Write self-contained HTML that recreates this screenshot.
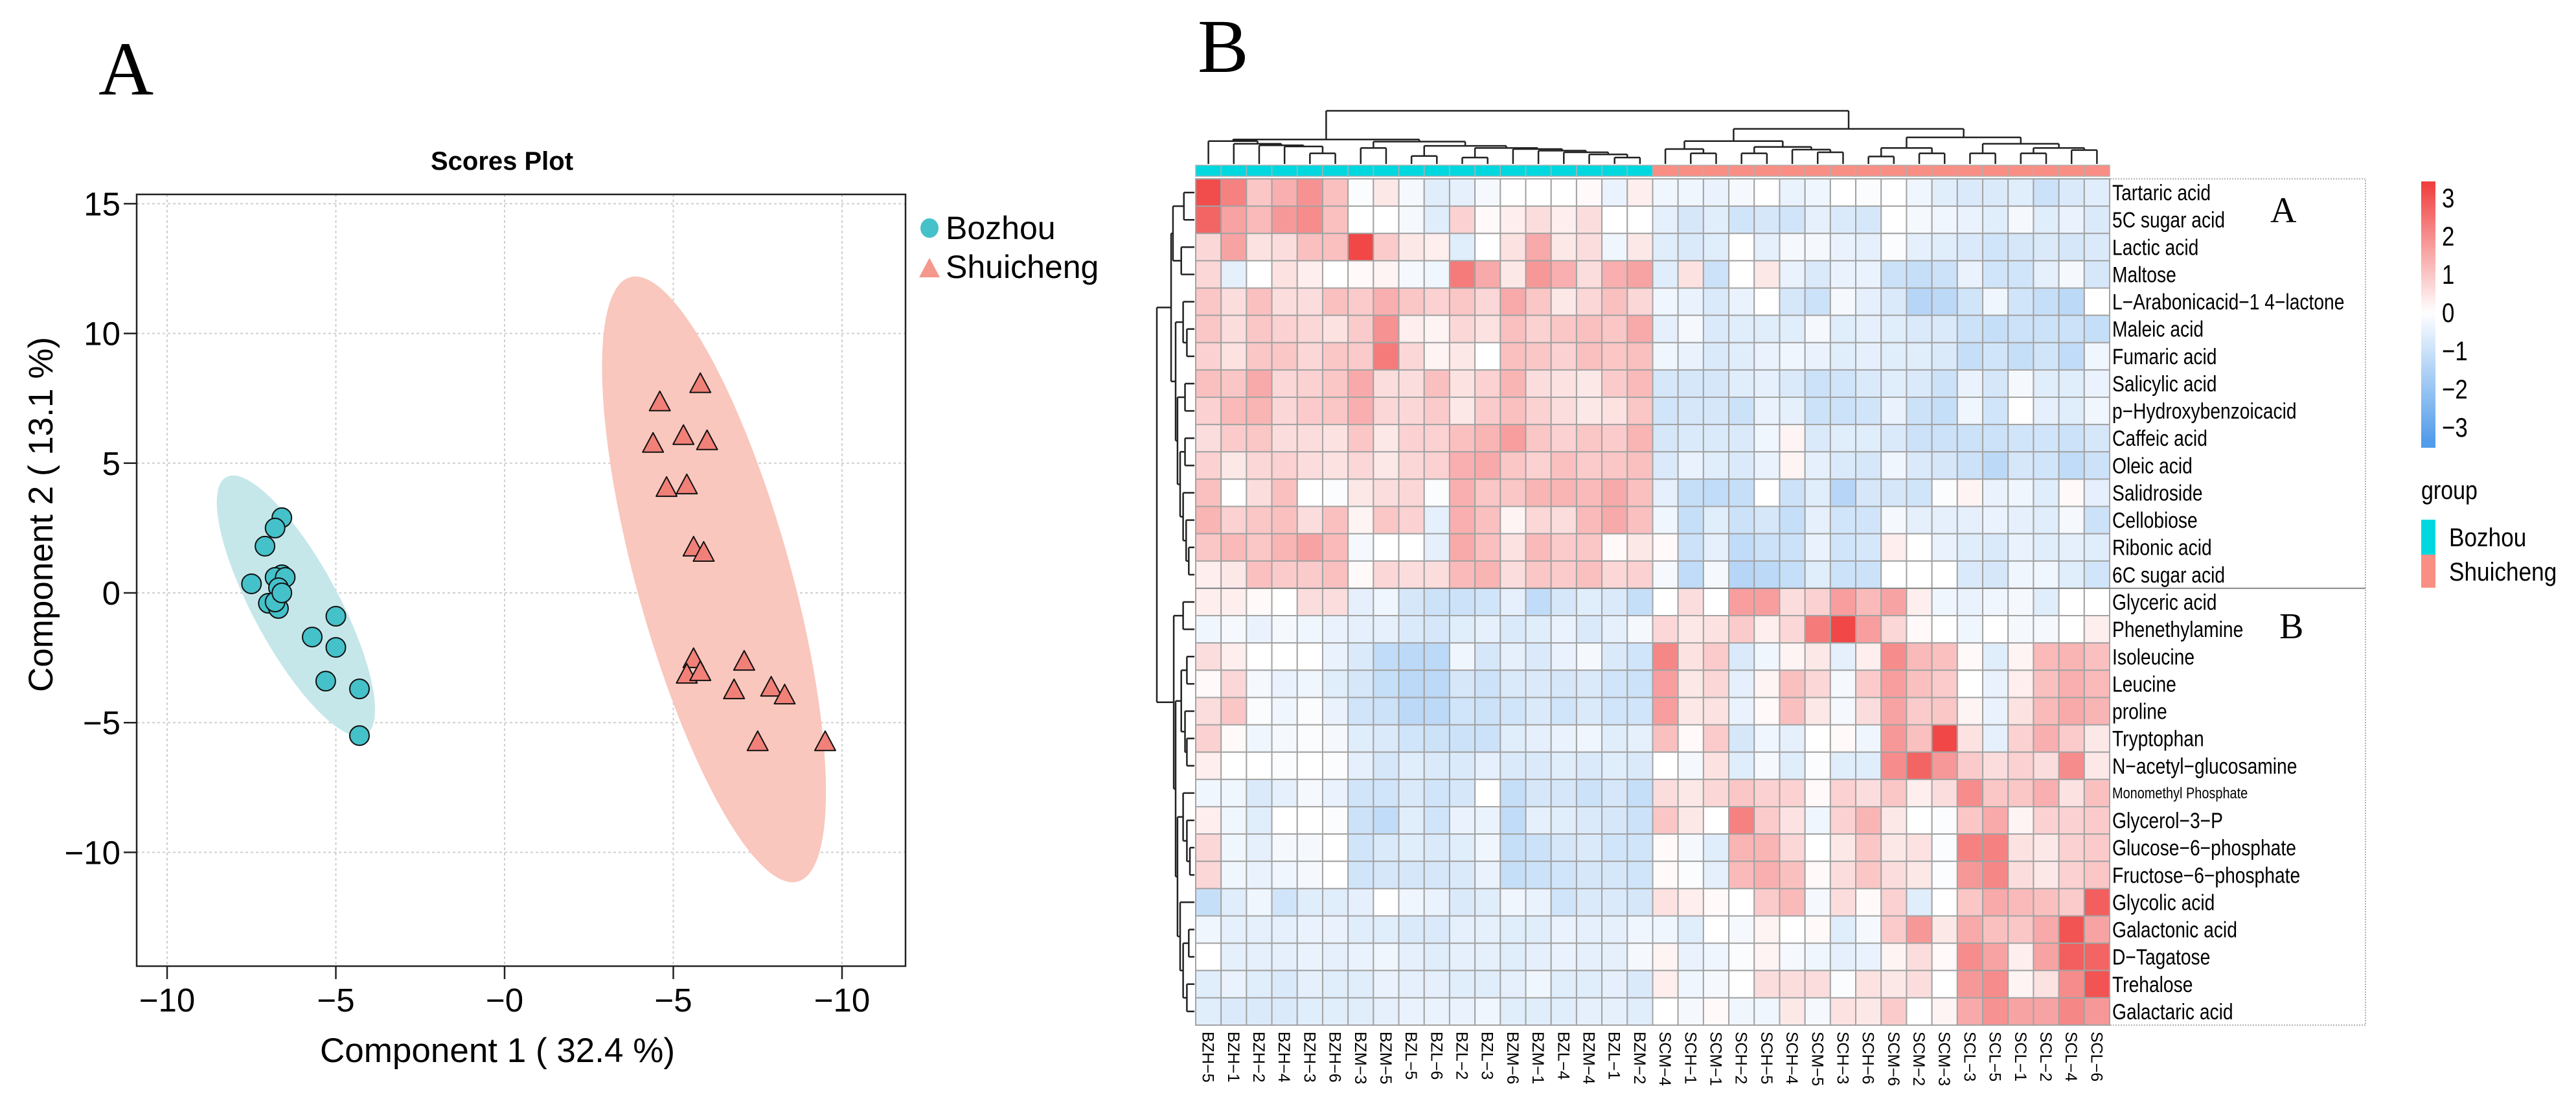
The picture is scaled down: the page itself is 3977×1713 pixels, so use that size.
<!DOCTYPE html>
<html><head><meta charset="utf-8"><style>
html,body{margin:0;padding:0;background:#fff;}
svg{display:block;font-family:"Liberation Sans",sans-serif;}
</style></head><body>
<svg id="fig" width="3977" height="1713" viewBox="0 0 3977 1713" xmlns="http://www.w3.org/2000/svg">
<rect width="3977" height="1713" fill="#fff"/>
<text x="152" y="146" font-family="Liberation Serif, serif" font-size="118">A</text>
<text x="1849" y="111" font-family="Liberation Serif, serif" font-size="118">B</text>
<g id="scatter"></g>
<g id="heat"></g>
</svg>
<script>
const NS="http://www.w3.org/2000/svg";
// ---------- Scores plot data ----------
const bozhouX=[-6.6,-6.8,-7.1,-7.5,-6.6,-6.8,-6.5,-6.7,-7.0,-6.7,-6.8,-5.0,-5.7,-5.0,-5.3,-4.3,-4.3,-6.6];
const bozhouY=[2.9,2.5,1.8,0.35,0.7,0.6,0.6,0.2,-0.4,-0.6,-0.35,-0.9,-1.7,-2.1,-3.4,-3.7,-5.5,0.0];
const shuiX=[4.6,5.8,4.4,5.3,6.0,4.8,5.4,5.6,5.9,5.6,5.4,5.8,7.1,6.8,7.9,8.3,7.5,9.5];
const shuiY=[7.3,8.0,5.7,6.0,5.8,4.0,4.1,1.7,1.5,-2.6,-3.2,-3.1,-2.7,-3.8,-3.7,-4.0,-5.8,-5.8];
const xTicks=[-10,-5,0,5,10];
const xTickLabels=["\u221210","\u22125","\u22120","\u22125","\u221210"];
const yTicks=[15,10,5,0,-5,-10];
const yTickLabels=["15","10","5","0","\u22125","\u221210"];

function el(tag,attrs,parent,txt){const e=document.createElementNS(NS,tag);for(const k in attrs)e.setAttribute(k,attrs[k]);if(txt!==undefined)e.textContent=txt;parent.appendChild(e);return e;}
const sx=v=>779+v*52.1, sy=v=>915-v*40.04;
const SL={left:211,right:1398,top:300,bottom:1491};
const sc=document.getElementById('scatter');
xTicks.forEach(t=>{const g=el('line',{x1:sx(t),x2:sx(t),y1:SL.top,y2:SL.bottom,stroke:'#cfcfcf','stroke-width':2,'stroke-dasharray':'4,4'},sc);

});
yTicks.forEach(t=>{const g=el('line',{x1:SL.left,x2:SL.right,y1:sy(t),y2:sy(t),stroke:'#cfcfcf','stroke-width':2,'stroke-dasharray':'4,4'},sc);

});
function mean(a){return a.reduce((s,v)=>s+v,0)/a.length;}
const e1=el('ellipse',{cx:0,cy:0,rx:66,ry:226,fill:'#c5e7ea',transform:`translate(${sx(mean(bozhouX))},${sy(mean(bozhouY))}) rotate(-28.4)`},sc);


const e2=el('ellipse',{cx:0,cy:0,rx:119,ry:484,fill:'#f9c7bd',transform:`translate(${sx(mean(shuiX))},${sy(mean(shuiY))}) rotate(-15.5)`},sc);


bozhouX.forEach((x,i)=>{const c=el('circle',{cx:sx(x),cy:sy(bozhouY[i]),r:15,fill:'#45c1c9',stroke:'#111','stroke-width':2},sc);

});
shuiX.forEach((x,i)=>{const X=sx(x),Y=sy(shuiY[i]);const p=el('polygon',{points:`${X},${Y-19} ${X-16},${Y+11} ${X+16},${Y+11}`,fill:'#f08078',stroke:'#111','stroke-width':2,'stroke-linejoin':'round'},sc);

});
const bx=el('rect',{x:SL.left,y:SL.top,width:SL.right-SL.left,height:SL.bottom-SL.top,fill:'none',stroke:'#222','stroke-width':2.5},sc);


xTicks.forEach((t,i)=>{el('line',{x1:sx(t),x2:sx(t),y1:SL.bottom,y2:SL.bottom+20,stroke:'#222','stroke-width':2.5},sc);
const l=el('text',{x:sx(t),y:1561,'font-size':51,'text-anchor':'middle'},sc,xTickLabels[i]);

});
yTicks.forEach((t,i)=>{el('line',{x1:SL.left-20,x2:SL.left,y1:sy(t),y2:sy(t),stroke:'#222','stroke-width':2.5},sc);
const l=el('text',{x:186,y:sy(t)+18,'font-size':51,'text-anchor':'end'},sc,yTickLabels[i]);

});
let t1=el('text',{x:775,y:262,'font-size':40,'font-weight':'bold','text-anchor':'middle'},sc,'Scores Plot');


let t2=el('text',{x:768,y:1639,'font-size':53,'text-anchor':'middle'},sc,'Component 1 ( 32.4 %)');


let t3=el('text',{x:0,y:0,'font-size':53,'text-anchor':'middle',transform:'translate(81,794) rotate(-90)'},sc,'Component 2 ( 13.1 %)');


let lg1=el('ellipse',{cx:1435,cy:352,rx:14,ry:15,fill:'#45c1c9'},sc);


let lt1=el('text',{x:1460,y:369,'font-size':50},sc,'Bozhou');


let lg2=el('polygon',{points:'1435,398 1419,428 1451,428',fill:'#f4978c'},sc);


let lt2=el('text',{x:1460,y:429,'font-size':50},sc,'Shuicheng');


</script>
<script>
// ---------- Heatmap data ----------
const metabolites=["Tartaric acid","5C sugar acid","Lactic acid","Maltose","L\u2212Arabonicacid\u22121 4\u2212lactone","Maleic acid","Fumaric acid","Salicylic acid","p\u2212Hydroxybenzoicacid","Caffeic acid","Oleic acid","Salidroside","Cellobiose","Ribonic acid","6C sugar acid","Glyceric acid","Phenethylamine","Isoleucine","Leucine","proline","Tryptophan","N\u2212acetyl\u2212glucosamine","Monomethyl Phosphate","Glycerol\u22123\u2212P","Glucose\u22126\u2212phosphate","Fructose\u22126\u2212phosphate","Glycolic acid","Galactonic acid","D\u2212Tagatose","Trehalose","Galactaric acid"];
const samples=["BZH\u22125","BZH\u22121","BZH\u22122","BZH\u22124","BZH\u22123","BZH\u22126","BZM\u22123","BZM\u22125","BZL\u22125","BZL\u22126","BZL\u22122","BZL\u22123","BZM\u22126","BZM\u22121","BZL\u22124","BZM\u22124","BZL\u22121","BZM\u22122","SCM\u22124","SCH\u22121","SCM\u22121","SCH\u22122","SCH\u22125","SCH\u22124","SCM\u22125","SCH\u22123","SCH\u22126","SCM\u22126","SCM\u22122","SCM\u22123","SCL\u22123","SCL\u22125","SCL\u22121","SCL\u22122","SCL\u22124","SCL\u22126"];
const sampleGroup=["B","B","B","B","B","B","B","B","B","B","B","B","B","B","B","B","B","B","S","S","S","S","S","S","S","S","S","S","S","S","S","S","S","S","S","S"];
const valuesBozhou=[
[3.1,2.2,1.0,1.4,1.9,1.1,-0.1,0.4,-0.2,-0.6,-0.5,-0.2,0,0,0,0.1,-0.4,0.3],
[2.7,1.6,1.2,1.8,2.0,1.1,0,0,-0.2,-0.6,0.8,0.1,0.3,0.6,0.3,0.6,0,0],
[0.7,1.6,0.5,0.6,1.1,1.1,3.2,0.9,0.4,0.3,-0.6,0,0.5,1.5,0.4,0.6,-0.3,0.4],
[0.7,-0.5,0,0.5,0.3,0,0.1,0.2,-0.2,-0.3,2.3,1.5,0.4,1.8,1.4,0.6,1.4,1.6],
[1.0,0.6,1.1,0.6,0.6,1.1,0.9,1.4,1.0,0.8,1.0,0.7,1.5,1.0,0.4,0.7,1.1,0.7],
[1.0,0.6,1.0,0.8,0.7,0.5,0.9,1.9,0.3,0.2,0.7,0.5,1.1,0.8,1.0,1.1,1.0,1.5],
[0.8,0.5,1.0,1.0,0.7,1.0,0.9,2.3,0.7,0.2,0.4,0,1.1,1.0,0.8,1.1,1.0,1.1],
[1.1,1.0,1.5,0.7,0.8,1.0,1.5,0.6,0.6,1.1,0.5,0.8,1.3,0.6,0.5,0.4,0.9,1.2],
[0.8,1.2,1.3,0.7,0.9,1.0,1.4,0.7,0.7,0.9,0.4,0.9,1.1,0.8,0.6,0.4,0.5,1.0],
[0.6,0.9,1.0,0.6,0.6,0.5,1.0,0.4,0.8,0.8,1.1,1.3,1.7,1.0,0.8,1.0,0.9,1.3],
[0.8,0.4,0.7,0.8,0.6,0.5,0.7,0.4,0.7,0.8,1.4,1.5,1.0,0.8,1.1,0.9,1.0,1.1],
[1.1,0,0.6,1.1,0,-0.1,0.4,0.6,0.7,-0.1,1.4,1.0,1.0,1.3,1.3,1.2,1.5,1.1],
[1.3,0.8,1.0,1.1,0.6,1.1,0.2,1.0,0.8,-0.5,1.4,1.1,0.2,0.7,0.6,1.2,1.5,1.1],
[1.0,1.2,1.0,1.3,1.6,1.2,-0.2,0,0,-0.5,1.5,1.1,0.5,1.2,0.9,1.0,0.1,0.4],
[0.3,0.4,1.1,0.9,0.9,1.1,0.1,0.7,0.6,0.6,1.2,1.3,0.6,1.0,0.9,1.1,0.7,0.8],
[0.3,0.3,0.1,0,0.6,0.6,-0.5,-0.3,-0.8,-1.0,-1.0,-0.9,-0.5,-1.2,-0.8,-0.6,-0.7,-1.1],
[-0.3,-0.2,-0.4,-0.2,-0.3,-0.4,-0.5,-0.5,-0.7,-0.8,-0.6,-0.5,-0.7,-0.6,-0.4,-0.7,-0.5,-0.2],
[0.6,0.3,0,0,0,-0.4,-0.7,-1.2,-1.3,-1.3,-0.3,-0.8,-0.5,-0.7,-0.4,-0.2,-0.7,-0.9],
[0.1,0.7,-0.2,-0.4,-0.3,-0.6,-0.8,-1.1,-1.3,-1.3,-0.8,-1.0,-0.7,-0.7,-0.8,-0.7,-0.9,-1.0],
[0.6,1.0,-0.1,-0.3,-0.1,-0.4,-0.9,-1.0,-1.3,-1.3,-0.9,-1.0,-0.9,-0.7,-0.9,-0.7,-0.9,-0.9],
[0.8,0.1,-0.3,-0.2,-0.1,-0.2,-0.6,-0.7,-0.9,-1.0,-1.0,-1.0,-0.6,-0.5,-0.4,-0.3,-0.6,-0.5],
[0.3,0,0,-0.1,0,-0.1,-0.5,-0.8,-0.6,-0.7,-0.7,-0.5,-0.7,-0.7,-0.6,-0.7,-0.6,-0.7],
[-0.3,-0.3,-0.7,-0.5,-0.2,-0.4,-0.9,-0.9,-0.7,-0.9,-0.8,0,-1.1,-0.8,-0.8,-1.0,-0.8,-1.1],
[0.3,-0.3,-0.6,0,0,-0.1,-1.0,-1.2,-0.6,-0.9,-0.4,-0.4,-1.2,-0.5,-0.6,-0.7,-0.8,-1.0],
[0.7,-0.3,-0.5,-0.2,-0.2,0,-0.9,-0.7,-0.6,-0.7,-0.6,-0.3,-1.1,-1.0,-0.8,-0.7,-0.9,-0.9],
[0.7,-0.3,-0.4,-0.3,-0.2,0,-0.9,-0.8,-0.8,-0.8,-0.7,-0.4,-1.1,-1.0,-0.9,-0.8,-0.8,-0.9],
[-1.1,-0.6,-0.3,-0.9,-0.6,-0.6,-0.5,0,-0.3,-0.4,-0.7,-0.6,-0.3,-0.4,-0.9,-0.7,-0.7,-0.8],
[-0.3,-0.5,-0.5,-0.5,-0.4,-0.4,-0.6,-0.6,-0.7,-0.7,-0.5,-0.5,-0.6,-0.6,-0.4,-0.5,-0.5,-0.3],
[0,-0.5,-0.5,-0.5,-0.4,-0.5,-0.4,-0.3,-0.5,-0.6,-0.5,-0.5,-0.6,-0.5,-0.4,-0.5,-0.5,-0.2],
[-0.6,-0.4,-0.6,-0.7,-0.5,-0.6,-0.6,-0.4,-0.5,-0.5,-0.6,-0.6,-0.5,-0.3,-0.6,-0.6,-0.5,-0.7],
[-0.6,-0.7,-0.7,-0.7,-0.6,-0.6,-0.6,-0.5,-0.4,-0.4,-0.4,-0.3,-0.6,-0.6,-0.6,-0.5,-0.5,-0.6]];
const valuesShuicheng=[
[-0.3,-0.3,-0.4,-0.2,0,-0.4,-0.3,0,-0.1,0,-0.3,-0.6,-0.7,-0.7,-0.6,-1.0,-0.7,-0.6],
[-0.5,-0.8,-0.6,-0.9,-0.8,-0.9,-0.5,-0.7,-0.8,0,-0.2,-0.3,-0.4,-0.6,-0.2,-0.6,-0.4,-0.7],
[-0.6,-0.7,-0.6,0,-0.5,-0.2,-0.2,-0.4,-0.5,-0.1,-0.5,-0.6,-0.7,-0.9,-0.8,-0.7,-0.8,-0.7],
[-0.6,0.5,-1.0,0,0.4,-0.4,-0.7,-0.4,-0.4,-1.0,-1.1,-1.0,-0.4,-0.9,-0.9,-0.5,-0.2,-0.8],
[-0.3,-0.4,-0.7,-0.4,0,-0.8,-1.0,-0.2,-0.5,-0.7,-1.4,-1.3,-0.9,-0.3,-0.9,-1.1,-1.3,0],
[-0.5,-0.2,-0.7,-0.6,-0.6,-0.6,-0.2,-0.6,-0.5,-0.6,-0.7,-0.7,-1.0,-1.1,-1.0,-1.0,-1.0,-1.1],
[-0.3,-0.4,-0.7,-0.6,-0.4,-0.3,-0.4,-0.6,-0.5,-0.6,-0.6,-0.7,-1.1,-0.9,-1.1,-0.9,-1.2,-0.3],
[-0.8,-0.8,-0.8,-0.6,-0.5,-0.7,-1.0,-0.9,-0.7,-0.6,-0.7,-1.0,-0.4,-0.8,-0.2,-0.6,-0.6,-0.4],
[-0.9,-0.8,-0.8,-1.0,-0.4,-0.5,-1.0,-1.0,-0.9,-0.4,-1.0,-1.1,-0.3,-0.9,0,-0.5,-0.6,-0.3],
[-0.8,-0.7,-0.7,-0.7,-0.3,0.2,-0.7,-0.6,-0.6,-0.7,-1.0,-1.0,-1.0,-1.0,-0.9,-0.9,-1.0,-0.8],
[-0.7,-0.4,-0.6,-0.7,-0.4,0.2,-0.5,-0.7,-0.8,-0.3,-0.7,-0.8,-1.0,-1.3,-0.8,-0.9,-1.2,-1.0],
[-0.5,-1.1,-1.2,-1.1,0,-1.0,-0.6,-1.4,-0.8,-0.8,-0.9,-0.1,0.2,-0.4,-0.3,-0.6,0.1,-0.5],
[-0.3,-1.1,-0.6,-1.0,-0.8,-1.1,-0.5,-0.9,-0.9,-0.2,-0.5,-0.5,-0.5,-0.4,-0.5,-0.6,-0.2,-1.0],
[0.1,-1.0,-0.5,-1.2,-1.0,-1.0,-0.4,-0.9,-0.8,0.3,0,-0.4,-0.6,-0.7,-0.4,-0.6,-0.5,-0.6],
[-0.2,-1.2,-0.2,-1.4,-1.3,-1.1,-0.6,-1.0,-1.0,0,0,0,-0.7,-0.8,-0.3,-0.3,-0.6,-0.9],
[0,0.6,0,1.7,1.7,0.6,0.8,1.7,1.2,1.6,0.3,-0.3,-0.4,-0.3,-0.2,-0.6,0,0],
[0.7,0.4,0.5,0.9,0.3,0.7,2.3,3.2,1.7,0.7,0.1,0,-0.3,0,-0.2,-0.2,0,0.3],
[2.1,0.5,0.9,-0.7,-0.3,0.2,0.4,-0.5,0.3,2.0,1.2,1.1,0.1,-0.6,0.2,1.2,1.3,1.1],
[1.7,0.4,0.7,-0.5,0.2,1.1,0.7,-0.2,0.9,1.7,1.1,0.9,0,-0.4,0.3,1.1,1.4,1.2],
[1.7,0.4,0.5,-0.4,0.1,1.1,0.4,-0.2,0.6,1.6,0.9,1.0,0.2,-0.4,0.5,1.2,1.5,1.3],
[1.1,0.1,0.9,-0.8,-0.3,-0.5,0,0.1,-0.3,1.8,1.1,3.2,0.5,-0.5,0.8,1.4,0.9,0.4],
[0,-0.2,0.5,-0.6,-0.2,-0.6,-0.1,-0.6,-0.6,2.0,2.7,1.8,0.9,0.6,0.8,0.6,2.0,0.4],
[0.6,0.4,0.7,1.0,0.8,0.8,0.1,0.8,0.6,1.0,0.3,0.6,2.0,1.0,1.0,1.4,0.5,1.1],
[1.0,0.4,0,2.2,0.9,0.5,-0.3,0.8,1.3,0.4,0,-0.1,1.0,1.5,0.2,0.8,0.8,0.9],
[0.1,-0.2,-0.6,1.3,1.3,0.7,0,0.4,1.0,0.4,0.5,-0.1,2.2,2.2,0.5,0.4,0.8,0.9],
[0.1,-0.1,-0.5,1.2,1.4,1.1,0.1,0.6,1.0,0.6,0.4,-0.1,1.8,2.1,0.6,0.4,0.8,1.0],
[0.5,0.3,0.1,0,0.9,1.2,-0.2,0.6,0.1,0.8,-0.6,0,1.0,1.5,1.2,1.1,0.9,2.8],
[-0.3,-0.6,0,-0.2,0.2,0,0.1,-0.6,-0.2,0.9,1.8,0.4,1.5,1.1,1.0,1.5,3.0,1.6],
[0.2,-0.4,-0.3,-0.1,0.2,-0.2,-0.3,-0.5,-0.4,0.2,0.6,0.1,2.0,1.6,0.3,1.6,2.8,2.7],
[0.3,-0.3,-0.2,0,0.6,0.6,0.6,-0.1,0.5,0.4,0.6,0,1.8,2.0,0.2,0.5,2.0,3.0],
[0,-0.2,0.1,-0.3,-0.3,0.4,-0.2,0.5,0.4,0.9,0,0.2,1.5,1.9,1.6,1.6,2.1,1.8]];
const colorbarTicks=[3,2,1,0,-1,-2,-3];
const colorbarTickLabels=["3","2","1","0","\u22121","\u22122","\u22123"];
const colTree={h:1,c:[
 {h:0.46,c:[{h:0.43,c:[0,{h:0.38,c:[1,{h:0.35,c:[2,{h:0.33,c:[3,{h:0.2,c:[4,5]}]}]}]}]},
  {h:0.42,c:[{h:0.30,c:[6,7]},{h:0.34,c:[{h:0.15,c:[8,9]},{h:0.3,c:[{h:0.12,c:[10,11]},{h:0.28,c:[12,{h:0.25,c:[13,{h:0.22,c:[14,{h:0.18,c:[15,{h:0.12,c:[16,17]}]}]}]}]}]}]}]}]},
 {h:0.66,c:[{h:0.43,c:[{h:0.28,c:[18,{h:0.2,c:[19,20]}]},{h:0.32,c:[{h:0.2,c:[21,22]},{h:0.27,c:[23,{h:0.22,c:[24,25]}]}]}]},
  {h:0.50,c:[{h:0.3,c:[{h:0.14,c:[26,27]},{h:0.2,c:[28,29]}]},{h:0.38,c:[{h:0.2,c:[30,31]},{h:0.3,c:[{h:0.2,c:[32,33]},{h:0.26,c:[34,35]}]}]}]}]}]};
const rowTree={h:1,c:[
 {h:0.62,c:[{h:0.57,c:[{h:0.28,c:[0,1]},{h:0.35,c:[2,3]}]},{h:0.5,c:[{h:0.3,c:[4,{h:0.2,c:[5,6]}]},{h:0.45,c:[{h:0.25,c:[7,8]},{h:0.38,c:[{h:0.25,c:[9,10]},{h:0.3,c:[11,{h:0.22,c:[12,{h:0.15,c:[13,14]}]}]}]}]}]}]},
 {h:0.55,c:[{h:0.3,c:[15,16]},{h:0.5,c:[{h:0.35,c:[{h:0.2,c:[17,18]},{h:0.25,c:[19,{h:0.2,c:[20,21]}]}]},{h:0.45,c:[{h:0.3,c:[22,{h:0.2,c:[23,{h:0.12,c:[24,25]}]}]},{h:0.38,c:[26,{h:0.3,c:[{h:0.15,c:[27,28]},{h:0.2,c:[29,30]}]}]}]}]}]}]};

const hm=document.getElementById('heat');
const HX0=1846,HY0=276,HX1=3257,HY1=1582;
const nR=metabolites.length,nC=samples.length;
const cw=(HX1-HX0)/nC, ch=(HY1-HY0)/nR;
const cx=j=>HX0+j*cw, ry=i=>HY0+i*ch;
function colour(v){const m=3.4;if(v>=0){const t=Math.min(v/m,1);return `rgb(${Math.round(255-t*15)},${Math.round(255-t*195)},${Math.round(255-t*195)})`;}
 const t=Math.min(-v/m,1);return `rgb(${Math.round(255-t*175)},${Math.round(255-t*100)},${Math.round(255-t*20)})`;}
const nB=valuesBozhou[0].length;
const lb=el('rect',{x:HX0,y:HY0,width:3652-HX0,height:HY1-HY0,fill:'none',stroke:'#999','stroke-width':1.5,'stroke-dasharray':'2,2'},hm);


for(let i=0;i<nR;i++){for(let j=0;j<nC;j++){
 const v=j<nB?valuesBozhou[i][j]:valuesShuicheng[i][j-nB];
 const r=el('rect',{x:cx(j),y:ry(i),width:cw,height:ch,fill:colour(v),stroke:'#a3a3a3','stroke-width':2},hm);
 
 
}}
const sep=el('line',{x1:HX0,x2:3652,y1:ry(15),y2:ry(15),stroke:'#888','stroke-width':2},hm);


for(let j=0;j<nC;j++){const r=el('rect',{x:cx(j),y:255,width:cw,height:17,fill:sampleGroup[j]==='B'?'#00d8e0':'#f98e84',stroke:'#b0b0b0','stroke-width':1.5},hm);
 
 }
metabolites.forEach((m,i)=>{const small=m==='Monomethyl Phosphate';const t=el('text',{'font-size':small?24:34,transform:`translate(3261,${ry(i)+ch/2+(small?8:12)}) scale(0.83,1)`},hm,m);
 
 });
samples.forEach((s,j)=>{const t=el('text',{'font-size':25,transform:`translate(${cx(j)+cw/2-9},1592) rotate(90)`},hm,s);
 
 });
let ca=el('text',{x:3505,y:343,'font-size':56,'font-family':'Liberation Serif, serif'},hm,'A');


let cb=el('text',{x:3519,y:985,'font-size':56,'font-family':'Liberation Serif, serif'},hm,'B');


function drawTree(node,leafPos,hPos,horizontalRoot){
 if(typeof node==='number')return {p:leafPos(node),h:hPos(0)};
 const kids=node.c.map(k=>drawTree(k,leafPos,hPos,horizontalRoot));
 const hp=hPos(node.h);const p=(kids[0].p+kids[kids.length-1].p)/2;
 let d='';
 if(horizontalRoot){kids.forEach(k=>{d+=`M${k.p},${k.h}V${hp}`;});d+=`M${kids[0].p},${hp}H${kids[kids.length-1].p}`;}
 else{kids.forEach(k=>{d+=`M${k.h},${k.p}H${hp}`;});d+=`M${hp},${kids[0].p}V${kids[kids.length-1].p}`;}
 const pth=el('path',{d:d,fill:'none',stroke:'#222','stroke-width':2.5},hm);
 
 
 return {p:p,h:hp};}
drawTree(colTree,j=>cx(j)+cw/2,h=>253-h*82,true);
drawTree(rowTree,i=>ry(i)+ch/2,h=>1844-h*58,false);
const defs=el('defs',{},hm);
const lgd=el('linearGradient',{id:'cbg',x1:0,y1:0,x2:0,y2:1},defs);
const cbTop=280,cbBot=691,cb0=482,cbU=59;
for(let k=0;k<=40;k++){const y=cbTop+(cbBot-cbTop)*k/40;const v=(cb0-y)/cbU;el('stop',{offset:(k/40),'stop-color':colour(v)},lgd);}
const cbr=el('rect',{x:3738,y:cbTop,width:22,height:cbBot-cbTop,fill:'url(#cbg)'},hm);


colorbarTicks.forEach((t,i)=>{const l=el('text',{'font-size':42,transform:`translate(3770,${cb0-t*cbU+15}) scale(0.83,1)`},hm,colorbarTickLabels[i]);
 
 });
let gt=el('text',{'font-size':40,transform:'translate(3738,770) scale(0.85,1)'},hm,'group');


let gb=el('rect',{x:3738,y:802,width:22,height:54,fill:'#00d8e0'},hm);


let gs=el('rect',{x:3738,y:856,width:22,height:51,fill:'#f98e84'},hm);


let gbt=el('text',{'font-size':40,transform:'translate(3781,843) scale(0.88,1)'},hm,'Bozhou');


let gst=el('text',{'font-size':40,transform:'translate(3781,896) scale(0.88,1)'},hm,'Shuicheng');


</script>
</body></html>
